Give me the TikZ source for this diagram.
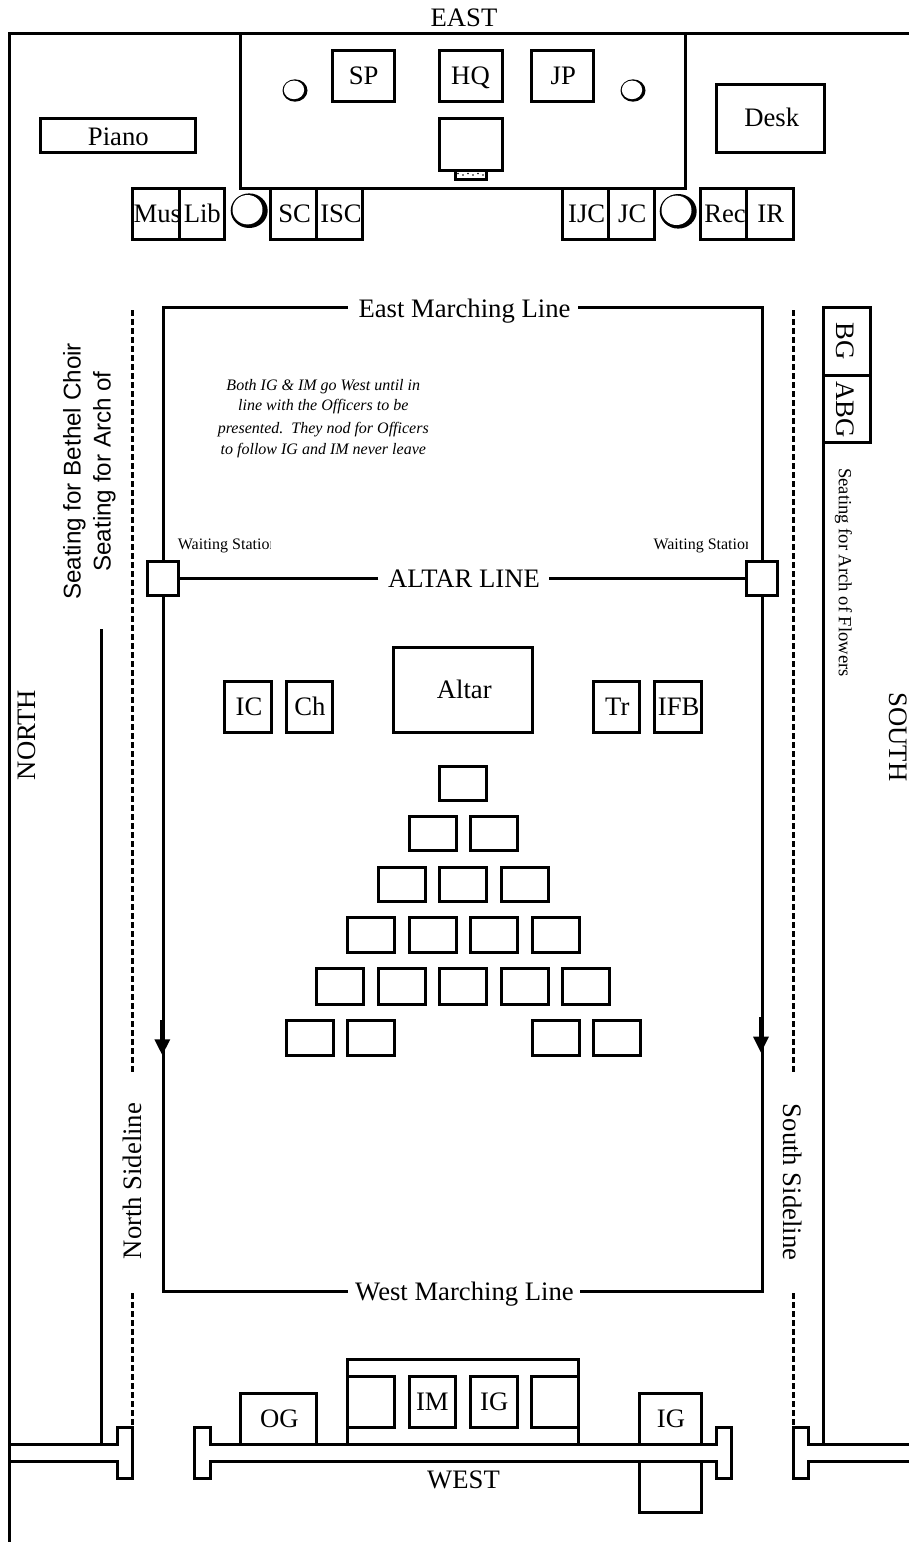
\documentclass[tikz,border=0pt]{standalone}
\usepackage{fontspec}
\setmainfont{Liberation Serif}
\newfontfamily\arialf{Liberation Sans}
\newcommand{\bigf}{\fontsize{26.67}{30}\selectfont}
\newcommand{\bx}[5]{\node[room, minimum width={(#4-#2)*1pt}, minimum height={(#5-#3)*1pt}] (#1) at ({(#2+#4)/2},{(#3+#5)/2}) {};}
\newcommand{\tx}[4]{\node[lab] (#1) at (#2,#3) {#4};}
\newcommand{\moonbig}[2]{\fill[black] (#1,#2) ellipse [x radius=18.5, y radius=17.3];
  \fill[white] ({#1-1.7},{#2-1}) ellipse [x radius=15, y radius=14.7];}
\newcommand{\moonsmall}[2]{\fill[black] (#1,#2) ellipse [x radius=12.5, y radius=11.2];
  \fill[white] ({#1-1},{#2-0.6}) ellipse [x radius=10.2, y radius=9.3];}
\tikzset{
  wall/.style={line width=3pt, line cap=butt, line join=miter},
  room/.style={draw, line width=3pt, fill=white, inner sep=0pt, outer sep=0pt},
  lab/.style={anchor=base, inner sep=0pt, font=\bigf},
  small/.style={anchor=base, inner sep=0pt, font=\fontsize{16}{18}\selectfont},
  note/.style={small, font=\fontsize{16}{18}\selectfont\itshape},
  sans/.style={anchor=base, inner sep=0pt, font=\arialf\fontsize{24.2}{28}\selectfont},
  seat/.style={wall, dash pattern=on 6pt off 3pt},
}
\begin{document}
\begin{tikzpicture}[x=1pt,y=-1pt]
\useasboundingbox (0,0) rectangle (909,1542);
\fill[white] (0,0) rectangle (909,1542);
% outer walls
\draw[wall] (909,33.5) -- (9.5,33.5) -- (9.5,1542);
\draw[wall] (9,1444.3) -- (117.3,1444.3) -- (117.3,1427) -- (132.5,1427) -- (132.5,1478.7) -- (117.3,1478.7) -- (117.3,1461.3) -- (9,1461.3);
\draw[wall] (210,1444.3) -- (716.7,1444.3) -- (716.7,1427) -- (731.7,1427) -- (731.7,1478.7) -- (716.7,1478.7) -- (716.7,1461.3) -- (210,1461.3) -- (210,1478.7) -- (194,1478.7) -- (194,1427) -- (210,1427) -- cycle;
\draw[wall] (909,1444.3) -- (808.3,1444.3) -- (808.3,1427) -- (793.5,1427) -- (793.5,1478.7) -- (808.3,1478.7) -- (808.3,1461.3) -- (909,1461.3);
% sidelines
\draw[wall] (101.7,629) -- (101.7,1444);
\draw[wall] (823.3,307) -- (823.3,1444);
\draw[seat] (132.3,310) -- (132.3,1072);
\draw[seat] (132.3,1293) -- (132.3,1425.5);
\draw[seat] (793.5,310) -- (793.5,1072);
\draw[seat] (793.5,1293) -- (793.5,1425.5);
% dais
\draw[wall] (240,33.5) -- (240,188.3) -- (685.7,188.3) -- (685.7,33.5);
\bx{sp}{332.5}{50.5}{394}{101.5}
\bx{hq}{439}{50.5}{502}{101.5}
\bx{jp}{531.3}{50.5}{593.7}{101.5}
\bx{chair}{439}{118}{502}{170}
\bx{step1}{455}{170}{486.5}{179}
\foreach \i in {0,1,2,3,4,5} {\fill[black] ({458+\i*5},{173.5+mod(\i,2)*1.5}) circle [radius=0.8];}
\tx{tsp}{363.7}{84.3}{SP}
\tx{thq}{470.5}{84.3}{HQ}
\tx{tjp}{563.3}{84.3}{JP}
\moonsmall{295}{90.5}
\moonsmall{633}{90.5}
% east floor
\bx{piano}{40}{118}{195}{152.7}
\tx{tpiano}{118.3}{145}{Piano}
\bx{desk}{716.3}{84.3}{824}{152.7}
\tx{tdesk}{771.7}{126}{Desk}
\bx{mus}{132.3}{188.3}{179}{239.3}
\tx{tmus}{157.3}{222.3}{Mus}
\bx{lib}{179}{188.3}{224.7}{239.3}
\tx{tlib}{202.3}{222.3}{Lib}
\moonbig{249.2}{210.7}
\bx{sc}{270.3}{188.3}{316}{239.3}
\tx{tsc}{294.7}{222.3}{SC}
\bx{isc}{316}{188.3}{362.7}{239.3}
\tx{tisc}{341}{222.3}{ISC}
\bx{ijc}{562.3}{188.3}{608.3}{239.3}
\tx{tijc}{586.7}{222.3}{IJC}
\bx{jc}{608.3}{188.3}{654.3}{239.3}
\tx{tjc}{632.3}{222.3}{JC}
\moonbig{678.2}{211.3}
\bx{rec}{700.3}{188.3}{746.7}{239.3}
\tx{trec}{725}{222.3}{Rec}
\bx{ir}{746.7}{188.3}{793.7}{239.3}
\tx{tir}{770.7}{222.3}{IR}
% marching lines
\draw[wall] (347.7,307.3) -- (163.3,307.3) -- (163.3,1291.3) -- (348,1291.3);
\draw[wall] (578,307.3) -- (762.3,307.3) -- (762.3,1291.3) -- (580,1291.3);
\draw[wall] (378.3,578.3) -- (163.3,578.3);
\draw[wall] (549,578.3) -- (762.3,578.3);
\tx{teast}{464.5}{317.3}{East Marching Line}
\tx{twest}{464.5}{1300}{West Marching Line}
\tx{taltl}{464}{587.7}{ALTAR LINE}
\bx{wsl}{147.3}{561}{178.7}{595.5}
\bx{wsr}{746.3}{561}{777.7}{595.5}
\begin{scope}
\clip (170,530) rectangle (270.7,560);
\node[small, anchor=base west] (twsl) at (177.7,549.3) {Waiting Station};
\end{scope}
\begin{scope}
\clip (645,530) rectangle (747,560);
\node[small, anchor=base west] (twsr) at (653.3,549.3) {Waiting Station};
\end{scope}
% arrows
\draw[wall] (161.8,1020) -- (161.8,1040);
\fill[black] (154.3,1039.3) -- (170.3,1039.3) -- (162.3,1055) -- cycle;
\draw[wall] (760.8,1017) -- (760.8,1037);
\fill[black] (753,1036.7) -- (769,1036.7) -- (761,1052.5) -- cycle;
% note
\node[note] (n1) at (323.3,390) {Both IG \& IM go West until in};
\node[note] (n2) at (323.3,410.7) {line with the Officers to be};
\node[note] (n3) at (323.3,433) {presented.\ \ They nod for Officers};
\node[note] (n4) at (323.3,454) {to follow IG and IM never leave};
% side texts
\node[sans, rotate=90] (s1) at (80.7,471.5) {Seating for Bethel Choir};
\node[sans, rotate=90] (s2) at (110.7,471.5) {Seating for Arch of};
\node[lab, rotate=90] (tnorth) at (35,735) {NORTH};
\node[lab, rotate=-90] (tsouth) at (889,737) {SOUTH};
\node[lab, rotate=90] (tnsl) at (141.7,1181) {North Sideline};
\node[lab, rotate=-90] (tssl) at (783,1182) {South Sideline};
% BG
\bx{bg}{823.3}{307.3}{870}{375}
\bx{abg}{823.3}{375}{870}{442.3}
\node[lab, rotate=-90] (tbg) at (836,341) {BG};
\node[lab, rotate=-90] (tabg) at (836,409.7) {ABG};
\node[anchor=base, inner sep=0pt, rotate=-90, font=\fontsize{18.6}{20}\selectfont] (tarch) at (838.8,572.5) {Seating for Arch of Flowers};
% altar and officers
\bx{altar}{393}{647.3}{532.3}{732.7}
\tx{taltar}{464.3}{698.3}{Altar}
\bx{ic}{224.3}{681.7}{271.7}{732.7}
\tx{tic}{249}{715}{IC}
\bx{ch}{286}{681.7}{332.7}{732.7}
\tx{tch}{310}{715}{Ch}
\bx{tr}{593.3}{681.7}{639.7}{732.7}
\tx{ttr}{617.3}{715}{Tr}
\bx{ifb}{654.3}{681.7}{701.3}{732.7}
\tx{tifb}{678.7}{715}{IFB}
% pyramid
\foreach \xa [count=\n] in {439.3} {\bx{pa\n}{\xa}{766}{\xa+47}{800.3}}
\foreach \xa [count=\n] in {409.3,470.3} {\bx{pb\n}{\xa}{816.3}{\xa+47}{850.7}}
\foreach \xa [count=\n] in {378.5,439.3,501} {\bx{pc\n}{\xa}{867}{\xa+47}{901.7}}
\foreach \xa [count=\n] in {347.5,409.3,470.3,532} {\bx{pd\n}{\xa}{917.5}{\xa+47}{952.7}}
\foreach \xa [count=\n] in {316.5,378.5,439.3,501,562} {\bx{pe\n}{\xa}{968.7}{\xa+47}{1004}}
\foreach \xa [count=\n] in {286,347.5,532,593} {\bx{pf\n}{\xa}{1020}{\xa+47}{1055}}
% west
\bx{og}{240}{1393.7}{316.7}{1444.3}
\tx{tog}{279.3}{1427.3}{OG}
\draw[wall] (347.3,1444.3) -- (347.3,1359.7) -- (578.7,1359.7) -- (578.7,1444.3);
\bx{w1}{347.3}{1376.7}{394}{1427.3}
\bx{im}{409}{1376.7}{455.7}{1427.3}
\tx{tim}{432.3}{1410}{IM}
\bx{igw}{470}{1376.7}{517}{1427.3}
\tx{tigw}{494.3}{1410}{IG}
\bx{w2}{531.7}{1376.7}{578.7}{1427.3}
\bx{ig}{639}{1393.7}{701}{1444.3}
\tx{tig}{671}{1427.3}{IG}
\bx{igl}{639}{1461.3}{701}{1512}
\tx{teastd}{464}{26}{EAST}
\tx{twestd}{463.5}{1488}{WEST}
\end{tikzpicture}
\end{document}
